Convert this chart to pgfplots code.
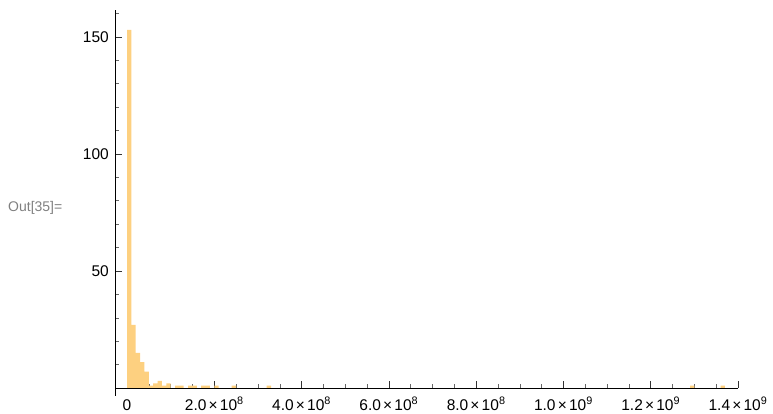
\documentclass[border=0pt]{standalone}
\usepackage{fontspec}
\setmainfont{Liberation Sans}
\usepackage{pgfplots}
\pgfplotsset{compat=1.18}
\definecolor{barc}{RGB}{253,208,128}
\definecolor{outgray}{RGB}{128,128,128}
\newcommand{\sci}[2]{#1\hspace{2.2pt}×\hspace{2.2pt}10\textsuperscript{#2}}
\begin{document}
\begin{tikzpicture}[x=1pt,y=1pt]
\path[use as bounding box] (0,0) rectangle (773,414);
\node[anchor=west, text=outgray, font=\fontsize{14}{16}\selectfont, inner sep=0pt] at (8,206) {Out[35]=};
\begin{axis}[at={(115pt,18.3pt)}, anchor=south west, scale only axis,
  width=623pt, height=385.7pt,
  xmin=-2.75, xmax=140, ymin=-3.3, ymax=161.5,
  axis x line=middle, axis y line=left,
  axis line style={-, black, line width=0.8pt},
  hide obscured x ticks=false, hide obscured y ticks=false,
  tick align=inside,
  major tick length=7pt, minor tick length=4pt,
  tick style={black!80, line width=0.6pt},
  minor tick style={black!60, line width=0.5pt},
  xtick={0,20,40,60,80,100,120,140},
  xticklabels={0,\sci{2.0}{8},\sci{4.0}{8},\sci{6.0}{8},\sci{8.0}{8},\sci{1.0}{9},\sci{1.2}{9},\sci{1.4}{9}},
  minor xtick={5,10,15,25,30,35,45,50,55,65,70,75,85,90,95,105,110,115,125,130,135},
  ytick={50,100,150},
  yticklabels={50,100,150},
  minor ytick={10,20,30,40,60,70,80,90,110,120,130,140,160},
  tick label style={font=\fontsize{15.5}{18}\selectfont},
  xticklabel style={anchor=north, text height=11pt, text depth=0pt, inner sep=0pt, yshift=-11pt},
  yticklabel style={anchor=east, inner sep=0pt, xshift=-6pt},
  clip=false,
]
\addplot[ybar, bar width=1, bar shift=0pt, fill=barc, draw=none] coordinates {
(0.5,153) (1.5,27) (2.5,15) (3.5,11) (4.5,7) (5.5,1) (6.5,2) (7.5,3) (8.5,1) (9.5,2)
(11.5,1) (12.5,1) (14.5,1) (15.5,1) (17.5,1) (18.5,1) (20.5,1) (24.5,1) (32.5,1)
(129.5,1) (136.5,1)
};
\end{axis}
\end{tikzpicture}
\end{document}
